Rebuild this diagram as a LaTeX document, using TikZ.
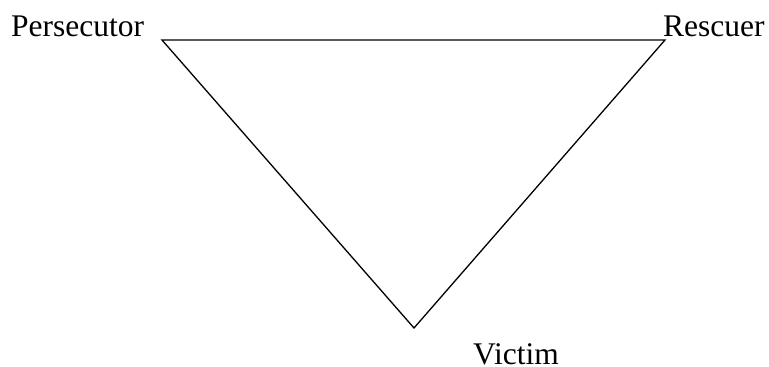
\documentclass[tikz,border=0pt]{standalone}
\usepackage{fontspec}
\setmainfont{Liberation Serif}
\begin{document}
\begin{tikzpicture}[x=1pt,y=-1pt,
  lbl/.style={inner sep=0pt,anchor=base west,font=\fontsize{31.5}{36}\selectfont},
  edge/.style={line width=1.3pt,line join=miter}]
\useasboundingbox (0,0) rectangle (769,367);
\coordinate (p) at (162,40);
\coordinate (r) at (665,40);
\coordinate (v) at (414,328);
\draw[edge] (p) -- (r) -- (v) -- cycle;
\node[lbl] (lp) at (11,36) {Persecutor};
\node[lbl] (lr) at (663,36) {Rescuer};
\node[lbl] (lv) at (473,364) {Victim};
\end{tikzpicture}
\end{document}
